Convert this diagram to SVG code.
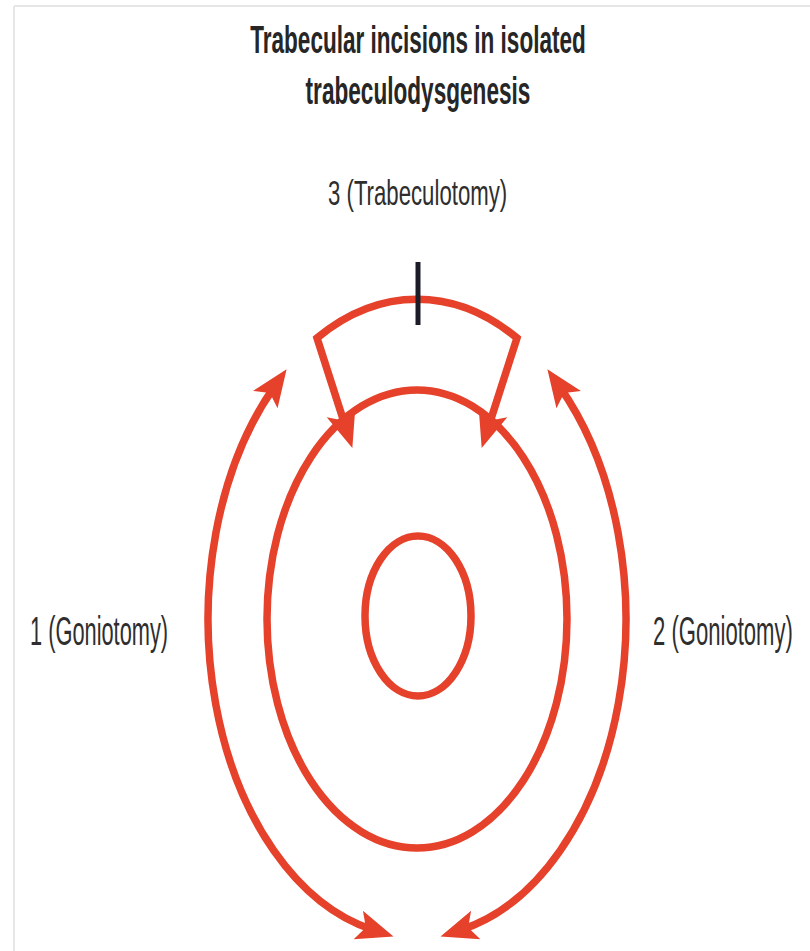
<svg xmlns="http://www.w3.org/2000/svg" width="810" height="951" viewBox="0 0 810 951">
<style>
.red{fill:none;stroke:#e5412b;stroke-width:7.5}
.arr{marker-start:url(#ah);marker-end:url(#ah)}
.txt{font-family:"Liberation Sans",Arial,sans-serif;fill:#2e2e2e}
.title{font-weight:bold;font-size:38px;fill:#262626}
.lbl{font-size:40px}
</style>
<defs>
<marker id="ah" markerUnits="userSpaceOnUse" markerWidth="46" markerHeight="36" viewBox="-21 -18 46 36" refX="0" refY="0" orient="auto-start-reverse">
<path d="M21,0 L-16,-15 L-8,0 L-16,15 Z" fill="#e5412b"/>
</marker>
</defs>
<rect x="0" y="0" width="810" height="951" fill="#ffffff"/>
<g id="frame" stroke="#e6e6e6" stroke-width="2" fill="none">
<line x1="14" y1="6" x2="810" y2="6"/>
<line x1="14" y1="6" x2="14" y2="951"/>
</g>
<g id="title" class="txt title" text-anchor="middle">
<text transform="translate(418,53) scale(0.593,1)">Trabecular incisions in isolated</text>
<text transform="translate(418,104) scale(0.595,1)">trabeculodysgenesis</text>
</g>
<g id="label3" class="txt">
<text transform="translate(328,205) scale(0.634,1)" font-size="35">3 (Trabeculotomy)</text>
</g>
<g id="label1" class="txt lbl">
<text transform="translate(30,645) scale(0.545,1)">1 (Goniotomy)</text>
</g>
<g id="label2" class="txt lbl">
<text transform="translate(653,645) scale(0.552,1)">2 (Goniotomy)</text>
</g>
<g id="inner-circle">
<ellipse class="red" cx="418" cy="616" rx="53" ry="80"/>
</g>
<g id="middle-circle">
<ellipse class="red" cx="417" cy="619" rx="150" ry="229"/>
</g>
<g id="connectors">
<path id="arc1" class="red arr" d="M274.5,386.5 A209,318 0 0 0 373.5,930"/>
<path id="arc2" class="red arr" d="M559.5,386.5 A209,318 0 0 1 460.5,930"/>
<path id="trab" class="red arr" d="M345.9,428 L317,338 A209,318 0 0 1 517,338 L488.1,428"/>
</g>
<g id="tick">
<line x1="418" y1="262" x2="418" y2="325" stroke="#1c1c28" stroke-width="5"/>
</g>
</svg>
